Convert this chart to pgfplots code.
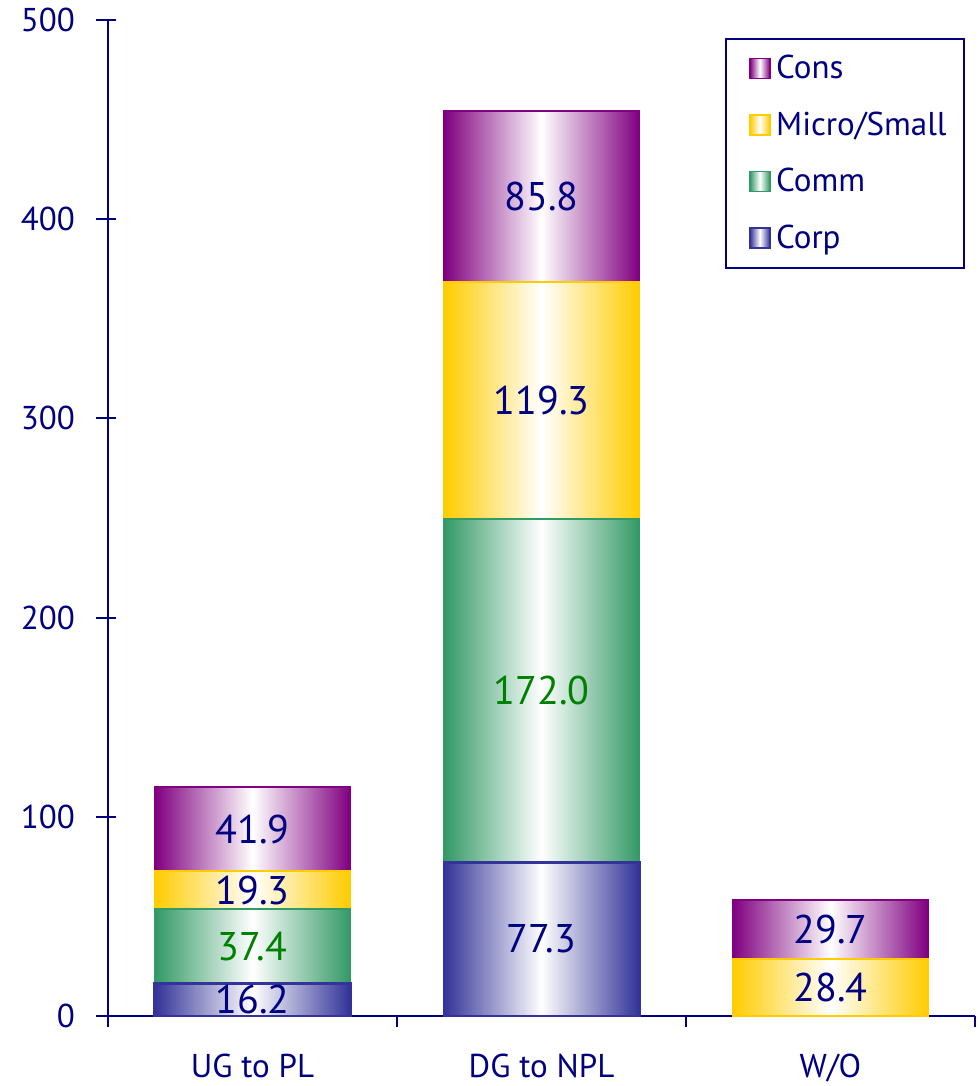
\documentclass[border=0pt]{standalone}
\usepackage{pgfplots}
\pgfplotsset{compat=1.18}
\usepackage{fontspec}
\setmainfont{PT Sans}

\definecolor{cons}{RGB}{128,0,128}
\definecolor{micro}{RGB}{255,204,0}
\definecolor{comm}{RGB}{51,153,102}
\definecolor{corp}{RGB}{51,51,153}
\definecolor{navy}{RGB}{0,0,128}
\definecolor{lblgreen}{RGB}{0,128,0}

\pgfplotsset{
  % one shaded style per segment type: colour at both edges, white in the middle
  corpbar/.style={draw=corp, line width=1.5pt, left color=corp, right color=corp, middle color=white},
  commbar/.style={draw=comm, line width=1pt, left color=comm, right color=comm, middle color=white,
    every node near coord/.append style={text=lblgreen}},
  microbar/.style={draw=micro, line width=1pt, left color=micro, right color=micro, middle color=white},
  consbar/.style={draw=cons, line width=1pt, left color=cons, right color=cons, middle color=white},
  % shared geometry: each column is stacked in its own overlaid axis
  stackaxis/.style={
    scale only axis, width=433.5pt, height=498pt,
    ybar stacked, bar width=97.5pt, bar shift=0pt,
    xmin=-0.5, xmax=2.5, ymin=0, ymax=500,
    /pgf/number format/assume math mode=true,
    nodes near coords={\pgfmathprintnumber[fixed,fixed zerofill,precision=1]{\pgfplotspointmeta}},
    every node near coord/.append style={anchor=center,
      font=\fontsize{20}{24}\selectfont, text=navy},
  },
}

\begin{document}
\begin{tikzpicture}
\useasboundingbox (-54pt,-35pt) rectangle (435.5pt,508pt);
% UG to PL, with the axes and the legend
\begin{axis}[
  stackaxis,
  axis lines*=left,
  axis line style={navy, line width=1pt},
  every tick/.style={navy, line width=1pt},
  tick align=outside,
  major tick length=10pt, minor tick length=5.5pt,
  ytick={0,100,200,300,400,500},
  ytick style={xshift=4pt},
  xtick={0,1,2},
  xticklabels={UG to PL, DG to NPL, W/O},
  major x tick style={draw=none},
  minor xtick={-0.5,0.5,1.5,2.5},
  ticklabel style={font=\fontsize{16.5}{19.8}\selectfont, text=navy},
  yticklabel style={xshift=-3pt},
  xticklabel style={yshift=-5.5pt},
  reverse legend,
  legend cell align=left,
  legend image code/.code={\path (0pt,0pt); \draw[#1, line width=0.8pt] (5pt,-5pt) rectangle (15pt,5pt);},
  legend style={at={(0.9885,0.982)}, anchor=north east, draw=navy, line width=1pt,
    font=\fontsize{16.5}{19.8}\selectfont, text=navy, row sep=11pt,
    inner xsep=6pt, inner ysep=6.25pt,
    nodes={inner xsep=2.75pt}},
]
\addplot[corpbar]  coordinates {(0,16.2)};  \addlegendentry{Corp}
\addplot[commbar]  coordinates {(0,37.4)};  \addlegendentry{Comm}
\addplot[microbar] coordinates {(0,19.3)};  \addlegendentry{Micro/Small}
\addplot[consbar]  coordinates {(0,41.9)};  \addlegendentry{Cons}
\end{axis}
% DG to NPL
\begin{axis}[stackaxis, hide axis]
\addplot[corpbar]  coordinates {(1,77.3)};
\addplot[commbar]  coordinates {(1,172.0)};
\addplot[microbar] coordinates {(1,119.3)};
\addplot[consbar]  coordinates {(1,85.8)};
\end{axis}
% W/O
\begin{axis}[stackaxis, hide axis]
\addplot[microbar] coordinates {(2,28.4)};
\addplot[consbar]  coordinates {(2,29.7)};
\end{axis}
\end{tikzpicture}
\end{document}
